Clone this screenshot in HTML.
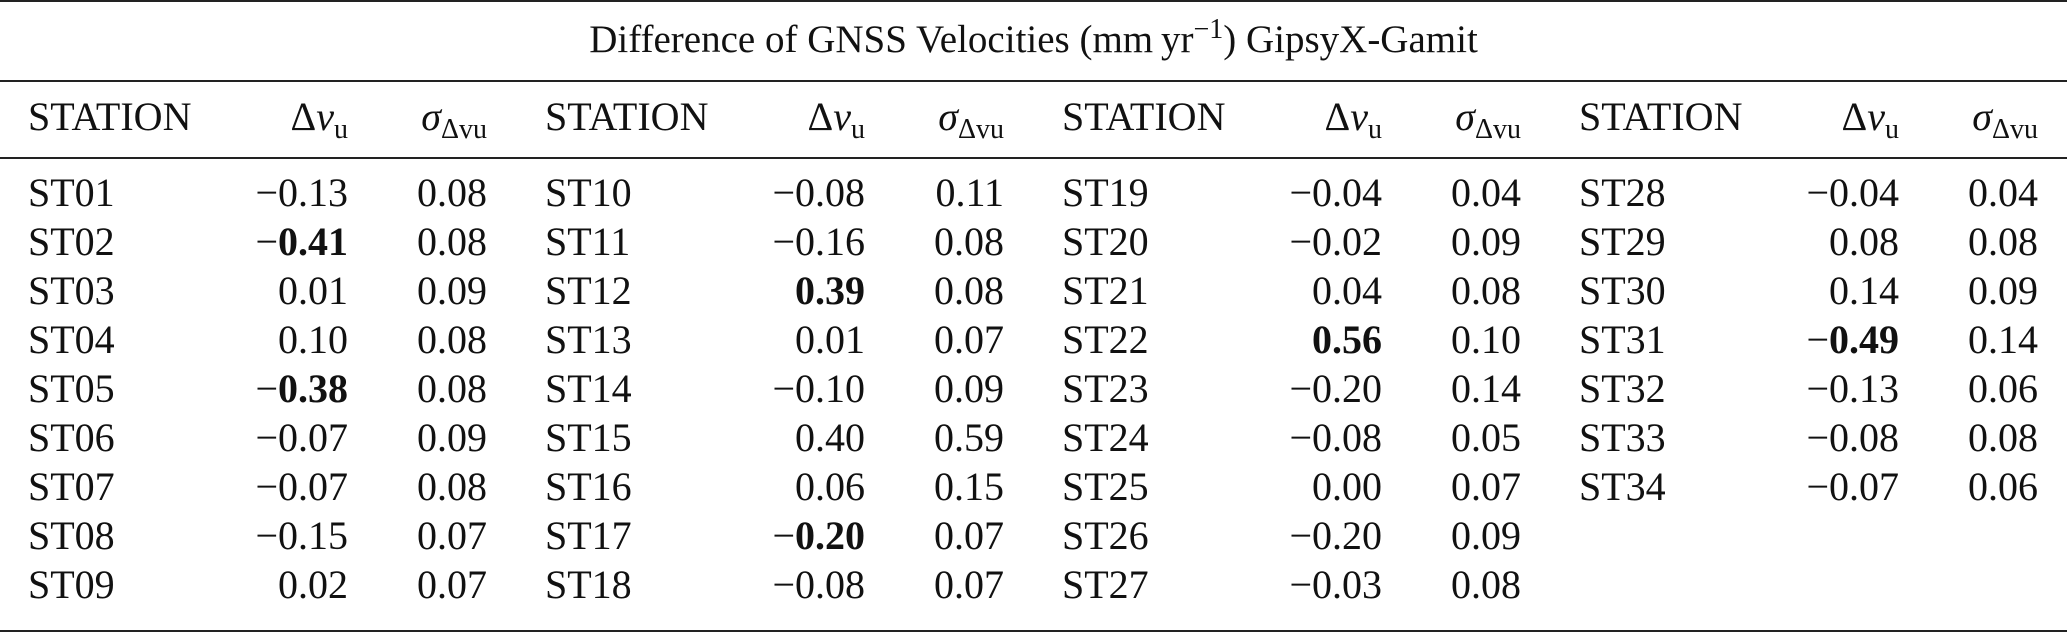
<!DOCTYPE html>
<html><head><meta charset="utf-8"><style>
html,body{margin:0;padding:0;background:#fff;}
body{width:2067px;height:633px;position:relative;overflow:hidden;font-family:"Liberation Serif",serif;color:#111;font-size:40px;}
.rule{position:absolute;left:0;width:2067px;height:2px;background:#222;}
.t{position:absolute;left:0;width:2067px;text-align:center;top:20px;line-height:40px;font-size:39px;white-space:nowrap;}
.t sup{font-size:28px;vertical-align:0;position:relative;top:-14px;}
.r{position:absolute;left:0;height:40px;line-height:40px;width:2067px;}
.r span{position:absolute;white-space:nowrap;}
.a{text-align:left;}
.d{width:200px;text-align:right;}
.e{width:120px;text-align:right;}
i{font-style:italic;}
sub{font-size:28px;vertical-align:0;position:relative;top:8px;font-style:normal;}
b{font-weight:bold;}
</style></head><body>
<div class="rule" style="top:0px"></div>
<div class="rule" style="top:80px"></div>
<div class="rule" style="top:157px"></div>
<div class="rule" style="top:630px"></div>
<div class="t">Difference of GNSS Velocities (mm&#8201;yr<sup>−1</sup>) GipsyX-Gamit</div>

<div class="r" style="top:97px">
<span class="a" style="left:28px">STATION</span><span class="d" style="left:148px">Δ<i>v</i><sub>u</sub></span><span class="e" style="left:367px"><i>σ</i><sub>Δvu</sub></span>
<span class="a" style="left:545px">STATION</span><span class="d" style="left:665px">Δ<i>v</i><sub>u</sub></span><span class="e" style="left:884px"><i>σ</i><sub>Δvu</sub></span>
<span class="a" style="left:1062px">STATION</span><span class="d" style="left:1182px">Δ<i>v</i><sub>u</sub></span><span class="e" style="left:1401px"><i>σ</i><sub>Δvu</sub></span>
<span class="a" style="left:1579px">STATION</span><span class="d" style="left:1699px">Δ<i>v</i><sub>u</sub></span><span class="e" style="left:1918px"><i>σ</i><sub>Δvu</sub></span>
</div>

<div class="r" style="top:173px">
<span class="a" style="left:28px">ST01</span><span class="d" style="left:148px">−0.13</span><span class="e" style="left:367px">0.08</span>
<span class="a" style="left:545px">ST10</span><span class="d" style="left:665px">−0.08</span><span class="e" style="left:884px">0.11</span>
<span class="a" style="left:1062px">ST19</span><span class="d" style="left:1182px">−0.04</span><span class="e" style="left:1401px">0.04</span>
<span class="a" style="left:1579px">ST28</span><span class="d" style="left:1699px">−0.04</span><span class="e" style="left:1918px">0.04</span>
</div>
<div class="r" style="top:222px">
<span class="a" style="left:28px">ST02</span><span class="d" style="left:148px">−<b>0.41</b></span><span class="e" style="left:367px">0.08</span>
<span class="a" style="left:545px">ST11</span><span class="d" style="left:665px">−0.16</span><span class="e" style="left:884px">0.08</span>
<span class="a" style="left:1062px">ST20</span><span class="d" style="left:1182px">−0.02</span><span class="e" style="left:1401px">0.09</span>
<span class="a" style="left:1579px">ST29</span><span class="d" style="left:1699px">0.08</span><span class="e" style="left:1918px">0.08</span>
</div>
<div class="r" style="top:271px">
<span class="a" style="left:28px">ST03</span><span class="d" style="left:148px">0.01</span><span class="e" style="left:367px">0.09</span>
<span class="a" style="left:545px">ST12</span><span class="d" style="left:665px"><b>0.39</b></span><span class="e" style="left:884px">0.08</span>
<span class="a" style="left:1062px">ST21</span><span class="d" style="left:1182px">0.04</span><span class="e" style="left:1401px">0.08</span>
<span class="a" style="left:1579px">ST30</span><span class="d" style="left:1699px">0.14</span><span class="e" style="left:1918px">0.09</span>
</div>
<div class="r" style="top:320px">
<span class="a" style="left:28px">ST04</span><span class="d" style="left:148px">0.10</span><span class="e" style="left:367px">0.08</span>
<span class="a" style="left:545px">ST13</span><span class="d" style="left:665px">0.01</span><span class="e" style="left:884px">0.07</span>
<span class="a" style="left:1062px">ST22</span><span class="d" style="left:1182px"><b>0.56</b></span><span class="e" style="left:1401px">0.10</span>
<span class="a" style="left:1579px">ST31</span><span class="d" style="left:1699px">−<b>0.49</b></span><span class="e" style="left:1918px">0.14</span>
</div>
<div class="r" style="top:369px">
<span class="a" style="left:28px">ST05</span><span class="d" style="left:148px">−<b>0.38</b></span><span class="e" style="left:367px">0.08</span>
<span class="a" style="left:545px">ST14</span><span class="d" style="left:665px">−0.10</span><span class="e" style="left:884px">0.09</span>
<span class="a" style="left:1062px">ST23</span><span class="d" style="left:1182px">−0.20</span><span class="e" style="left:1401px">0.14</span>
<span class="a" style="left:1579px">ST32</span><span class="d" style="left:1699px">−0.13</span><span class="e" style="left:1918px">0.06</span>
</div>
<div class="r" style="top:418px">
<span class="a" style="left:28px">ST06</span><span class="d" style="left:148px">−0.07</span><span class="e" style="left:367px">0.09</span>
<span class="a" style="left:545px">ST15</span><span class="d" style="left:665px">0.40</span><span class="e" style="left:884px">0.59</span>
<span class="a" style="left:1062px">ST24</span><span class="d" style="left:1182px">−0.08</span><span class="e" style="left:1401px">0.05</span>
<span class="a" style="left:1579px">ST33</span><span class="d" style="left:1699px">−0.08</span><span class="e" style="left:1918px">0.08</span>
</div>
<div class="r" style="top:467px">
<span class="a" style="left:28px">ST07</span><span class="d" style="left:148px">−0.07</span><span class="e" style="left:367px">0.08</span>
<span class="a" style="left:545px">ST16</span><span class="d" style="left:665px">0.06</span><span class="e" style="left:884px">0.15</span>
<span class="a" style="left:1062px">ST25</span><span class="d" style="left:1182px">0.00</span><span class="e" style="left:1401px">0.07</span>
<span class="a" style="left:1579px">ST34</span><span class="d" style="left:1699px">−0.07</span><span class="e" style="left:1918px">0.06</span>
</div>
<div class="r" style="top:516px">
<span class="a" style="left:28px">ST08</span><span class="d" style="left:148px">−0.15</span><span class="e" style="left:367px">0.07</span>
<span class="a" style="left:545px">ST17</span><span class="d" style="left:665px">−<b>0.20</b></span><span class="e" style="left:884px">0.07</span>
<span class="a" style="left:1062px">ST26</span><span class="d" style="left:1182px">−0.20</span><span class="e" style="left:1401px">0.09</span>
</div>
<div class="r" style="top:565px">
<span class="a" style="left:28px">ST09</span><span class="d" style="left:148px">0.02</span><span class="e" style="left:367px">0.07</span>
<span class="a" style="left:545px">ST18</span><span class="d" style="left:665px">−0.08</span><span class="e" style="left:884px">0.07</span>
<span class="a" style="left:1062px">ST27</span><span class="d" style="left:1182px">−0.03</span><span class="e" style="left:1401px">0.08</span>
</div>
</body></html>
